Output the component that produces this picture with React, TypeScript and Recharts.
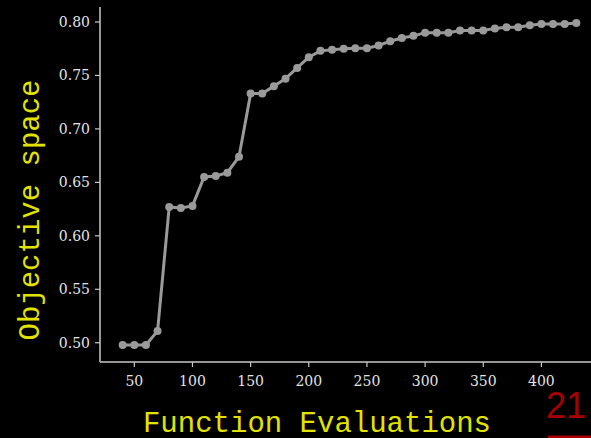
import React from 'react';
import { LineChart, Line, XAxis, YAxis, Label } from 'recharts';

const evaluations = [40, 50, 60, 70, 80, 90, 100, 110, 120, 130, 140, 150, 160, 170, 180, 190, 200, 210, 220, 230, 240, 250, 260, 270, 280, 290, 300, 310, 320, 330, 340, 350, 360, 370, 380, 390, 400, 410, 420, 430];
const objective = [0.498, 0.498, 0.498, 0.511, 0.627, 0.626, 0.628, 0.655, 0.656, 0.659, 0.674, 0.733, 0.733, 0.740, 0.747, 0.757, 0.767, 0.773, 0.774, 0.775, 0.7755, 0.7755, 0.778, 0.782, 0.785, 0.787, 0.790, 0.790, 0.790, 0.792, 0.792, 0.792, 0.794, 0.795, 0.795, 0.797, 0.798, 0.798, 0.798, 0.799];
const xTicks = [50, 100, 150, 200, 250, 300, 350, 400];
const yTicks = [0.5, 0.55, 0.6, 0.65, 0.7, 0.75, 0.8];
const xLabel = 'Function Evaluations';
const yLabel = 'Objective space';
const badge = '21';

const data = evaluations.map((e, i) => ({ e, v: objective[i] }));

const SPINE = '#c8c8c8';
const TICKTXT = '#e4e4e4';
const YELLOW = '#e2e200';
const MONO = '"Courier New", Courier, "Liberation Mono", monospace';
const SERIF = '"DejaVu Serif", "Liberation Serif", serif';

const XTick = (props: any) => {
  const { x, y, payload } = props;
  return (
    <text x={x} y={y} dy={10} textAnchor="middle" fill={TICKTXT} fontSize={14} fontFamily={SERIF} style={{ fontFamily: SERIF }}>
      {payload.value}
    </text>
  );
};

const YTick = (props: any) => {
  const { x, y, payload } = props;
  return (
    <text x={x} y={y} dy={5} textAnchor="end" fill={TICKTXT} fontSize={14} fontFamily={SERIF} style={{ fontFamily: SERIF }}>
      {Number(payload.value).toFixed(2)}
    </text>
  );
};

export default function App() {
  return (
    <div style={{ position: 'absolute', left: 0, top: 0, width: 591, height: 438, overflow: 'hidden', background: '#000' }}>
      <LineChart width={620} height={438} data={data} margin={{ top: 7, right: 21, left: 0, bottom: 0 }}>
        <XAxis
          xAxisId="top"
          orientation="top"
          dataKey="e"
          type="number"
          domain={[20.5, 449.5]}
          height={0}
          tick={false}
          tickLine={false}
          axisLine={{ stroke: SPINE, strokeWidth: 1.5 }}
        />
        <XAxis
          dataKey="e"
          type="number"
          domain={[20.5, 449.5]}
          ticks={xTicks}
          height={76}
          tickSize={5}
          tickMargin={9}
          axisLine={{ stroke: SPINE, strokeWidth: 1.5 }}
          tickLine={{ stroke: SPINE, strokeWidth: 1.2 }}
          tick={<XTick />}
        >
          <Label
            content={() => (
              <text x={317} y={432} textAnchor="middle" fill={YELLOW} fontSize={29} fontFamily={MONO}>
                {xLabel}
              </text>
            )}
          />
        </XAxis>
        <YAxis
          type="number"
          domain={[0.482, 0.814]}
          ticks={yTicks}
          width={100}
          tickSize={5}
          tickMargin={5}
          axisLine={{ stroke: SPINE, strokeWidth: 1.5 }}
          tickLine={{ stroke: SPINE, strokeWidth: 1.2 }}
          tick={<YTick />}
        >
          <Label
            content={() => (
              <text
                x={31}
                y={210}
                transform="rotate(-90 31 210)"
                textAnchor="middle"
                dominantBaseline="central"
                fill={YELLOW}
                fontSize={29}
                fontFamily={MONO}
              >
                {yLabel}
              </text>
            )}
          />
        </YAxis>
        <Line
          type="linear"
          dataKey="v"
          stroke="#9a9a9a"
          strokeWidth={3}
          dot={{ r: 4, fill: '#9a9a9a', stroke: 'none' }}
          isAnimationActive={false}
        />
      </LineChart>
      <svg width={591} height={438} style={{ position: 'absolute', left: 0, top: 0, pointerEvents: 'none' }}>
        <text x={546} y={418} fill="#a80000" fontSize={36} fontFamily='"Liberation Sans", Arial, sans-serif'>
          {badge}
        </text>
        <line x1={548} y1={437} x2={591} y2={437} stroke="#a80000" strokeWidth={3} />
      </svg>
    </div>
  );
}
